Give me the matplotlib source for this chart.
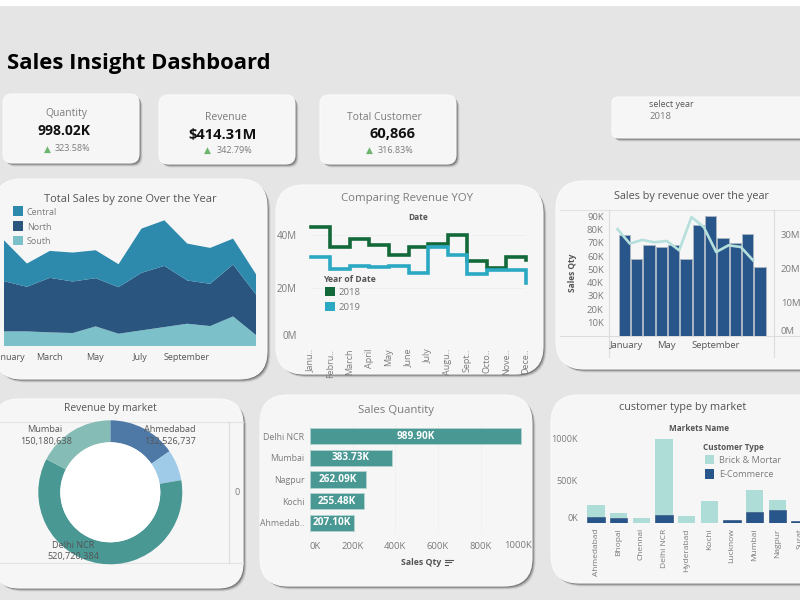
import matplotlib
matplotlib.use("Agg")
import matplotlib.pyplot as plt
from matplotlib.patches import FancyBboxPatch, Rectangle

plt.rcParams['font.family'] = ['Open Sans', 'DejaVu Sans']

# --- Data ---
months = ['January', 'February', 'March', 'April', 'May', 'June', 'July', 'August',
          'September', 'October', 'November', 'December']
zone_south = [44, 44, 41, 39, 59, 37, 47, 57, 67, 60, 89, 33]
zone_north = [151, 134, 164, 155, 145, 140, 173, 184, 130, 127, 156, 122]
zone_central = [123, 70, 81, 87, 84, 69, 133, 137, 111, 108, 78, 61]

yoy_labels = ['Janu..', 'Febru..', 'March', 'April', 'May', 'June', 'July', 'Augu..',
              'Sept..', 'Octo..', 'Nove..', 'Dece..']
rev_2018 = [42.9, 35.4, 38.5, 36.0, 32.5, 35.3, 36.4, 39.8, 30.2, 27.7, 31.5, 30.4]
rev_2019 = [31.7, 27.3, 28.4, 27.8, 28.3, 25.5, 35.3, 32.3, 25.1, 26.6, 26.6, 22.1]

sales_qty = [75.9, 58.0, 68.1, 66.6, 68.6, 58.0, 83.7, 90.0, 73.6, 69.6, 76.9, 51.5]
sales_rev = [31.7, 27.4, 28.5, 27.8, 28.2, 25.4, 35.3, 32.3, 24.9, 26.9, 26.4, 22.4]

donut_values = [132526737, 60000000, 520720384, 150180638]
donut_colors = ['#4e79a7', '#a0cbe8', '#499894', '#86bcb6']

qty_markets = ['Delhi NCR', 'Mumbai', 'Nagpur', 'Kochi', 'Ahmedab..']
qty_values = [989.90, 383.73, 262.09, 255.48, 207.10]

type_markets = ['Ahmedabad', 'Bhopal', 'Chennai', 'Delhi NCR', 'Hyderabad', 'Kochi',
                'Lucknow', 'Mumbai', 'Nagpur', 'Surat']
ecommerce = [67, 55, 0, 91, 0, 0, 32, 127, 155, 16]
brick_mortar = [139, 55, 52, 901, 75, 258, 0, 262, 111, 0]

kpi_names = ['Quantity', 'Revenue', 'Total Customer']
kpi_values = ['998.02K', '$414.31M', '60,866']
kpi_changes = ['323.58%', '342.79%', '316.83%']

GREY = '#7b7b7b'
DARK = '#555555'
TEAL = '#499894'
NAVY = '#28558a'

W, H = 800, 600
fig = plt.figure(figsize=(8, 6), dpi=100, facecolor='#e5e5e5')


def ax_px(l, t, r, b, zorder=2):
    # axes placed by pixel box, y measured from the top of the image
    ax = fig.add_axes([l / W, 1 - b / H, (r - l) / W, (b - t) / H], zorder=zorder)
    ax.patch.set_alpha(0)
    for s in ax.spines.values():
        s.set_visible(False)
    ax.tick_params(length=0, labelsize=6.5, labelcolor=GREY, pad=3)
    return ax


bg = ax_px(0, 0, W, H, zorder=1)
bg.set_xlim(0, W); bg.set_ylim(H, 0); bg.axis('off')
fg = ax_px(0, 0, W, H, zorder=10)
fg.set_xlim(0, W); fg.set_ylim(H, 0); fg.axis('off')


def card(x0, y0, x1, y1, r):
    for off, col, a in [(3.5, '#000000', 0.08), (2.5, '#000000', 0.18), (1.5, '#000000', 0.28)]:
        bg.add_patch(FancyBboxPatch((x0 + r + off, y0 + r + off), x1 - x0 - 2 * r, y1 - y0 - 2 * r,
                                    boxstyle=f'round,pad={r},rounding_size={r}', fc=col, ec='none', alpha=a))
    bg.add_patch(FancyBboxPatch((x0 + r, y0 + r), x1 - x0 - 2 * r, y1 - y0 - 2 * r,
                                boxstyle=f'round,pad={r},rounding_size={r}', fc='#f6f6f6', ec='#fafafa', lw=0.8))


def txt(x, y, s, size=7, color=GREY, ha='center', va='center', **kw):
    # Open Sans sits a little high when centred
    return fg.text(x, y + 1.2, s, fontsize=size, color=color, ha=ha, va=va, **kw)


def swatch(x0, y0, x1, y1, color):
    fg.add_patch(Rectangle((x0, y0), x1 - x0, y1 - y0, fc=color, ec='none'))


bg.add_patch(Rectangle((0, 0), W, 6, fc='white', ec='none'))

txt(7, 62, 'Sales Insight Dashboard', size=15.8, color='black', ha='left', weight='bold')

# --- KPI cards ---
card(3, 94, 139, 163, 9)
card(159, 95, 295, 164, 9)
card(320, 95, 456, 164, 9)
kpi_name_pos = [(66, 112.7), (225.7, 116.3), (384.7, 116.3)]
kpi_value_pos = [(64, 130), (222.7, 133.7), (393, 133.3)]
kpi_tri_pos = [(47.7, 147.7), (207.7, 149), (369.7, 149)]
kpi_change_pos = [(72.7, 147.7), (234.7, 149), (395.7, 149)]
kpi_value_size = [10, 10.5, 10.5]
for i in range(3):
    txt(*kpi_name_pos[i], kpi_names[i], size=7.5)
    txt(*kpi_value_pos[i], kpi_values[i], size=kpi_value_size[i], color='#111111', weight='bold')
    txt(*kpi_tri_pos[i], '▲', size=6.5, color='#6db56d', family='DejaVu Sans')
    txt(*kpi_change_pos[i], kpi_changes[i], size=6.5)

card(612, 97, 840, 138, 6)
txt(671.7, 103.7, 'select year', size=6.5, color=DARK)
txt(661, 115.3, '2018', size=6.8)

# --- Total Sales by zone ---
card(-6, 179, 267, 379, 28)
ax = ax_px(4, 213, 256, 346)
x = list(range(12))
ax.stackplot(x, zone_south, zone_north, zone_central, colors=['#7cc0c9', '#29557f', '#2e8aad'], lw=0)
ax.set_xlim(0, 11); ax.set_ylim(0, 400)
ax.set_yticks([])
ax.set_xticks([0.22, 2, 3.95, 5.95, 7.95], [months[i] for i in [0, 2, 4, 6, 8]])
ax.tick_params(axis='x', pad=5, labelcolor=DARK)
txt(130.3, 198.5, 'Total Sales by zone Over the Year', size=8, color=DARK)
swatch(12.7, 206.3, 22.7, 216, '#2e8aad')
swatch(12.7, 221, 22.7, 230.7, '#29557f')
swatch(12.7, 235.7, 22.7, 245.3, '#7cc0c9')
for y, s in [(211.3, 'Central'), (226, 'North'), (240.7, 'South')]:
    txt(26.7, y, s, size=6.5, ha='left')

# --- Comparing Revenue YOY ---
card(276, 185, 543, 374, 28)
ax = ax_px(310.7, 222, 526, 341.7)
ax.plot(x, rev_2018, drawstyle='steps-post', color='#14693a', lw=2.6, solid_joinstyle='miter', clip_on=False)
ax.plot(x, rev_2019, drawstyle='steps-post', color='#2ba8c2', lw=2.6, solid_joinstyle='miter', clip_on=False)
ax.set_xlim(0, 11); ax.set_ylim(0, 44.7)
ax.set_yticks([0, 20, 40], ['0M', '20M', '40M'])
ax.get_yticklabels()[0].set_va('bottom')
ax.grid(axis='y', color='#eeeeee', lw=0.6)
ax.set_axisbelow(True)
ax.set_xticks(x, yoy_labels, rotation=90)
ax.tick_params(axis='x', pad=5)
ax.tick_params(axis='y', pad=10, labelsize=7)
txt(406.7, 197.5, 'Comparing Revenue YOY', size=8.2)
txt(418.3, 216, 'Date', size=6, color=DARK, weight='bold')
txt(349, 278.7, 'Year of Date', size=6.2, color=DARK, weight='bold')
swatch(325, 287, 335, 296.3, '#14693a')
swatch(325, 301.7, 335, 311, '#2ba8c2')
txt(349.3, 291.7, '2018', size=6.8)
txt(349.3, 306, '2019', size=6.8)

# --- Sales by revenue over the year ---
card(556, 181, 840, 369, 28)
bg.plot([560, W], [209.7, 209.7], color='#e3e3e3', lw=0.8)
bg.plot([560, W], [335.7, 335.7], color='#dcdcdc', lw=0.8)
bg.plot([609.3, 609.3], [209.7, 357], color='#dcdcdc', lw=0.8)
bg.plot([774, 774], [209.7, 357], color='#dcdcdc', lw=0.8)
ax = ax_px(609.3, 209.7, 774, 335.7)
ax.bar(x, sales_qty, width=0.92, color=NAVY, edgecolor='#a9b4c2', lw=0.7)
ax.set_xlim(-1.216, 12.14); ax.set_ylim(0, 95)
ax.set_yticks(range(10, 100, 10), [f'{v}K' for v in range(10, 100, 10)])
ax.tick_params(axis='y', pad=4, labelsize=6.8)
ax.set_xticks([0.2, 3.4, 7.43], ['January', 'May', 'September'])
ax.tick_params(axis='x', pad=4, labelsize=6.8, labelcolor=DARK)
ax2 = ax.twinx()
ax2.patch.set_alpha(0)
for s in ax2.spines.values():
    s.set_visible(False)
ax2.plot([i - 0.55 for i in x], sales_rev, color='#b5e0dc', lw=1.9)
ax2.set_ylim(0, 37.5)
ax2.set_yticks([0, 10, 20, 30], ['0M', '10M', '20M', '30M'])
ax2.get_yticklabels()[0].set_va('bottom')
ax2.tick_params(length=0, labelsize=6.8, labelcolor=GREY, pad=5)
txt(691.7, 195, 'Sales by revenue over the year', size=7.8, color=DARK)
txt(572.7, 271.7, 'Sales Qty', size=6, color=DARK, rotation=90, weight='bold')

# --- Revenue by market ---
card(-6, 399, 243, 588, 25)
bg.plot([0, 243], [421.7, 421.7], color='#e3e3e3', lw=0.8)
bg.plot([0, 243], [563.3, 563.3], color='#e3e3e3', lw=0.8)
bg.plot([229.3, 229.3], [421.7, 563.3], color='#dcdcdc', lw=0.8)
ax = ax_px(38.3, 420.3, 182.3, 564.3)
ax.pie(donut_values, colors=donut_colors, startangle=90, counterclock=False, radius=1,
       wedgeprops=dict(width=22 / 72, ec='none'))
ax.add_patch(plt.Circle((0, 0), 50 / 72, fc='white', ec='none', zorder=5))
ax.set_xlim(-1, 1); ax.set_ylim(-1, 1)
txt(110.3, 407, 'Revenue by market', size=7.4, color=DARK)
txt(45, 428.7, 'Mumbai', size=6.6, color=DARK)
txt(45.7, 440, '150,180,638', size=6.6, color=DARK)
txt(170, 428.7, 'Ahmedabad', size=6.6, color=DARK)
txt(170.3, 440, '132,526,737', size=6.6, color=DARK)
txt(73.3, 544.3, 'Delhi NCR', size=6.6, color=DARK)
txt(73.3, 555.7, '520,720,384', size=6.6, color=DARK)
txt(236.7, 491, '0', size=6.5)

# --- Sales Quantity ---
card(260, 395, 532, 586, 28)
ax = ax_px(310, 425.2, 523.3, 533.8)
y = list(range(len(qty_values)))
ax.barh(y, qty_values, height=0.74, color=TEAL, edgecolor='#b6d8d5', lw=0.5)
ax.set_xlim(0, 1000); ax.set_ylim(4.5, -0.5)
ax.set_yticks(y, qty_markets)
ax.tick_params(axis='y', labelsize=6.3, pad=4)
ax.set_xticks(range(0, 1000, 200), ['0K', '200K', '400K', '600K', '800K'])
ax.tick_params(axis='x', labelsize=6.8, pad=6)
ax.get_xticklabels()[0].set_ha('left')
ax.grid(axis='x', color='#efefef', lw=0.6)
ax.set_axisbelow(True)
for i, v in enumerate(qty_values):
    ax.text(v / 2, i, f'{v:.2f}K', color='white', fontsize=7.2, weight='bold', ha='center', va='center')
txt(518.3, 544.4, '1000K', size=6.8)
txt(395.7, 409.5, 'Sales Quantity', size=8.2)
txt(420.7, 561.7, 'Sales Qty', size=6.3, color=DARK, weight='bold')
for w, yy in [(8, 559.5), (5.5, 562), (3, 564.5)]:
    fg.plot([445, 445 + w], [yy, yy], color=DARK, lw=0.8)

# --- customer type by market ---
card(551, 395, 840, 583, 28)
ax = ax_px(584.7, 438.7, W, 522.7)
x3 = list(range(len(type_markets)))
ax.bar(x3, ecommerce, width=0.765, color=NAVY, edgecolor='#1f4474', lw=0.4)
ax.bar(x3, brick_mortar, width=0.765, bottom=ecommerce, color='#aedcd7', lw=0)
ax.set_xlim(-0.5, 9.0); ax.set_ylim(0, 1000)
ax.set_yticks([0, 500, 1000], ['0K', '500K', '1000K'])
ax.get_yticklabels()[0].set_va('bottom')
ax.tick_params(axis='y', labelsize=6.5, pad=5)
ax.set_xticks(x3, type_markets, rotation=90)
ax.tick_params(axis='x', labelsize=6, pad=4)
txt(682.7, 406, 'customer type by market', size=7.8, color=DARK)
txt(699, 427, 'Markets Name', size=5.9, color=DARK, weight='bold')
txt(733.7, 446, 'Customer Type', size=5.9, color=DARK, weight='bold')
swatch(705, 455, 714.3, 464.3, '#aedcd7')
swatch(705, 469.3, 714.3, 478.7, NAVY)
txt(718.7, 459, 'Brick & Mortar', size=6.6, ha='left')
txt(718.7, 473.7, 'E-Commerce', size=6.6, ha='left')

fig.savefig('out.png', dpi=100, facecolor=fig.get_facecolor())
